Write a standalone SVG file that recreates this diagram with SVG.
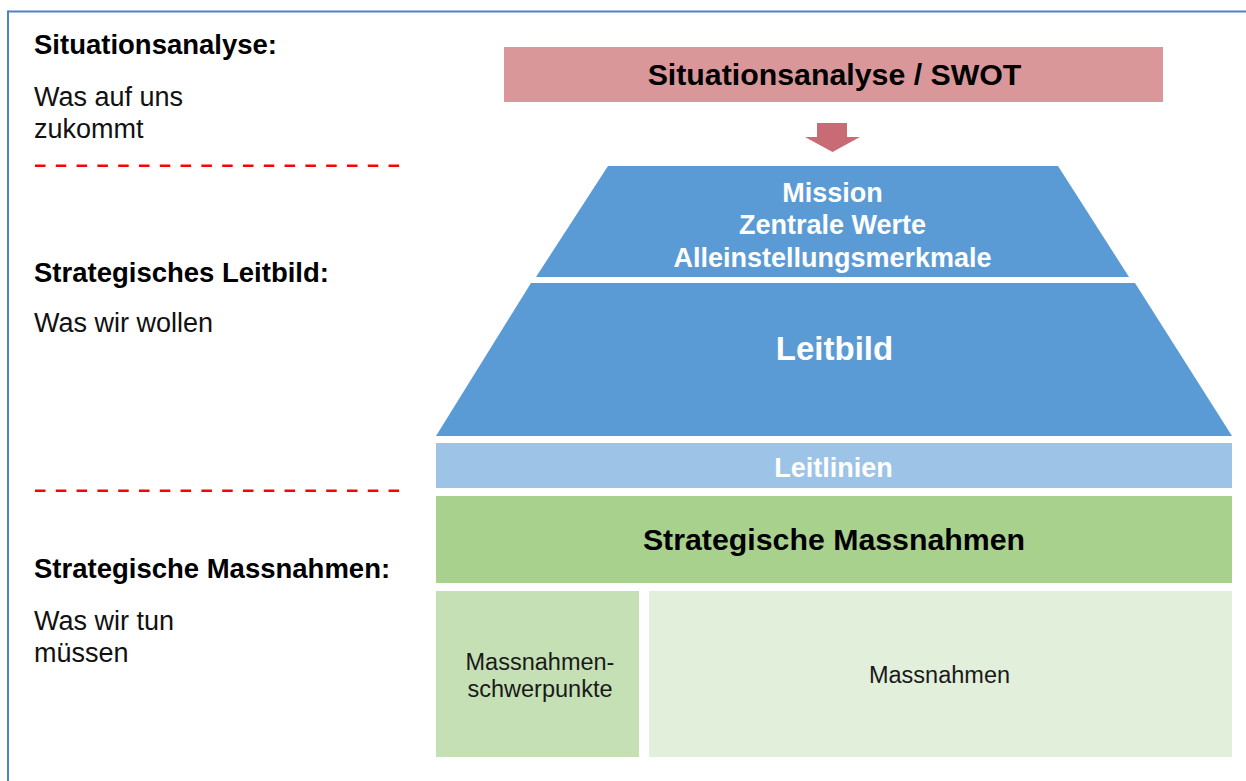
<svg xmlns="http://www.w3.org/2000/svg" width="1246" height="781" viewBox="0 0 1246 781">
<style>
text{font-family:"Liberation Sans",Arial,sans-serif}
.lb{font-size:27.5px;font-weight:bold;fill:#000}
.lr{font-size:27px;fill:#111}
.dash{stroke:#FF0000;stroke-width:2.5;stroke-dasharray:10.5 10.3;fill:none}
.wt{fill:#fff;font-weight:bold;text-anchor:middle}
.bt{fill:#000;font-weight:bold;text-anchor:middle}
.sm{fill:#1a1a1a;font-size:23.5px;text-anchor:middle}
</style>
<rect width="1246" height="781" fill="#fff"/>
<g id="frame" stroke="#4F81C4" stroke-width="2" fill="none">
<line x1="8" y1="11.5" x2="1246" y2="11.5"/>
<line x1="8" y1="10.5" x2="8" y2="781"/>
</g>
<g id="labels">
<text class="lb" x="34" y="54">Situationsanalyse:</text>
<text class="lr" x="34" y="106">Was auf uns</text>
<text class="lr" x="34" y="138">zukommt</text>
<line class="dash" x1="35" y1="165.7" x2="400" y2="165.7"/>
<text class="lb" x="34" y="282">Strategisches Leitbild:</text>
<text class="lr" x="34" y="332">Was wir wollen</text>
<line class="dash" x1="35" y1="490.7" x2="400" y2="490.7"/>
<text class="lb" x="34" y="578">Strategische Massnahmen:</text>
<text class="lr" x="34" y="630">Was wir tun</text>
<text class="lr" x="34" y="662">müssen</text>
</g>
<g id="swot">
<rect x="504" y="47" width="659" height="55" fill="#D9979A"/>
<text class="bt" x="834.5" y="85" font-size="30.3">Situationsanalyse / SWOT</text>
</g>
<g id="connectors">
<polygon points="817,123 847,123 847,137 860,137 832.5,152 805,137 817,137" fill="#C86B74"/>
</g>
<g id="mission">
<polygon points="608,166 1058,166 1129,277 536,277" fill="#5B9BD5"/>
<text class="wt" x="832.5" y="202" font-size="27">Mission</text>
<text class="wt" x="832.5" y="234" font-size="27">Zentrale Werte</text>
<text class="wt" x="832.5" y="267" font-size="27">Alleinstellungsmerkmale</text>
</g>
<g id="leitbild">
<polygon points="531,283 1135,283 1232,436 436,436" fill="#5B9BD5"/>
<text class="wt" x="834.5" y="360" font-size="33">Leitbild</text>
</g>
<g id="leitlinien">
<rect x="436" y="443" width="796" height="45" fill="#9DC3E6"/>
<text class="wt" x="833.5" y="477" font-size="27">Leitlinien</text>
</g>
<g id="strategische-massnahmen">
<rect x="436" y="496" width="796" height="87" fill="#A9D18E"/>
<text class="bt" x="834" y="550" font-size="30.3">Strategische Massnahmen</text>
</g>
<g id="schwerpunkte">
<rect x="436" y="591" width="203" height="166" fill="#C5E0B4"/>
<text class="sm" x="540" y="670">Massnahmen-</text>
<text class="sm" x="540" y="697">schwerpunkte</text>
</g>
<g id="massnahmen">
<rect x="649" y="591" width="583" height="166" fill="#E2EFDA"/>
<text class="sm" x="939.5" y="683">Massnahmen</text>
</g>
</svg>
